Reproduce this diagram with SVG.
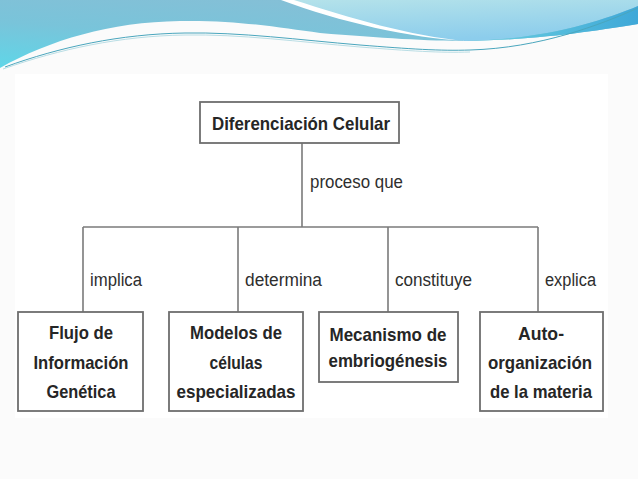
<svg xmlns="http://www.w3.org/2000/svg" width="638" height="479" viewBox="0 0 638 479">
<defs>
<linearGradient id="gBlue" x1="0" y1="1" x2="0.6" y2="0">
<stop offset="0" stop-color="#5fd6e8"/>
<stop offset="0.5" stop-color="#79c4da"/>
<stop offset="1" stop-color="#86bfd6"/>
</linearGradient>
<linearGradient id="gLight" x1="0" y1="0" x2="0.3" y2="1">
<stop offset="0" stop-color="#b4e2ea"/>
<stop offset="1" stop-color="#8ccdec"/>
</linearGradient>
<linearGradient id="gDeep" x1="0" y1="0" x2="1" y2="0">
<stop offset="0" stop-color="#6cd2e0"/>
<stop offset="1" stop-color="#3fa8d8"/>
</linearGradient>
<style>
.box{fill:#ffffff;stroke:#6e6e6e;stroke-width:1.8}
.nt{font-family:"Liberation Sans",Arial,sans-serif;font-weight:bold;font-size:19px;fill:#262626;text-anchor:middle}
.lb{font-family:"Liberation Sans",Arial,sans-serif;font-size:18px;fill:#2e2e2e}
.ln{stroke:#7a7a7a;stroke-width:1.6;fill:none}
</style>
</defs>
<rect width="638" height="479" fill="#fbfbfb"/>
<rect x="15" y="74" width="593" height="344" fill="#ffffff"/>
<!-- header waves -->
<path d="M0 0 H638 V24 C600 30 540 40 466 41 C430 41 380 38 320 33 C280 28 240 20 180 21 C110 22 50 40 0 68 Z" fill="url(#gBlue)"/>
<path d="M292 0 C350 20 410 37 466 41 C540 40 600 22 638 6 V0 Z" fill="url(#gLight)"/>
<path d="M466 41 C540 40 600 22 638 6 V24 C600 30 540 40 466 41 Z" fill="url(#gDeep)"/>
<path d="M281 0 L294 0 C350 18 410 36 466 41 C410 38 340 22 281 0 Z" fill="#ffffff"/>
<path d="M5 67 C60 47 120 34 185 33 C240 32 300 40 360 45 C410 49 440 51 470 50 C540 48 600 25 638 8" stroke="#4aa6bd" stroke-width="1" fill="none"/>
<path d="M3 69 C60 49 120 36 185 35 C240 34 300 42 360 47 C410 51 440 53 470 52" stroke="#a8d6de" stroke-width="0.8" fill="none"/>
<!-- connectors -->
<g id="connectors">
<line class="ln" x1="302" y1="143" x2="302" y2="227"/>
<line class="ln" x1="83" y1="227" x2="538" y2="227"/>
<line class="ln" x1="83" y1="227" x2="83" y2="312"/>
<line class="ln" x1="238" y1="227" x2="238" y2="312"/>
<line class="ln" x1="388" y1="227" x2="388" y2="312"/>
<line class="ln" x1="538" y1="227" x2="538" y2="312"/>
<text class="lb" x="310" y="188" textLength="93" lengthAdjust="spacingAndGlyphs">proceso que</text>
<text class="lb" x="90" y="286" textLength="52" lengthAdjust="spacingAndGlyphs">implica</text>
<text class="lb" x="245" y="286" textLength="77" lengthAdjust="spacingAndGlyphs">determina</text>
<text class="lb" x="395" y="286" textLength="77" lengthAdjust="spacingAndGlyphs">constituye</text>
<text class="lb" x="545" y="286" textLength="51" lengthAdjust="spacingAndGlyphs">explica</text>
</g>
<g id="root">
<rect class="box" x="200" y="102" width="199" height="41"/>
<text class="nt" x="301" y="130" textLength="178" lengthAdjust="spacingAndGlyphs">Diferenciación Celular</text>
</g>
<g id="n1">
<rect class="box" x="18" y="312" width="125" height="99"/>
<text class="nt" x="81" y="339" textLength="64" lengthAdjust="spacingAndGlyphs">Flujo de</text>
<text class="nt" x="81" y="369" textLength="95" lengthAdjust="spacingAndGlyphs">Información</text>
<text class="nt" x="81" y="398" textLength="69" lengthAdjust="spacingAndGlyphs">Genética</text>
</g>
<g id="n2">
<rect class="box" x="169" y="312" width="134" height="99"/>
<text class="nt" x="236" y="339" textLength="92" lengthAdjust="spacingAndGlyphs">Modelos de</text>
<text class="nt" x="236" y="369" textLength="53" lengthAdjust="spacingAndGlyphs">células</text>
<text class="nt" x="236" y="398" textLength="119" lengthAdjust="spacingAndGlyphs">especializadas</text>
</g>
<g id="n3">
<rect class="box" x="319" y="312" width="139" height="70"/>
<text class="nt" x="388" y="341" textLength="117" lengthAdjust="spacingAndGlyphs">Mecanismo de</text>
<text class="nt" x="388" y="367" textLength="119" lengthAdjust="spacingAndGlyphs">embriogénesis</text>
</g>
<g id="n4">
<rect class="box" x="480" y="312" width="123" height="99"/>
<text class="nt" x="541" y="340" textLength="46" lengthAdjust="spacingAndGlyphs">Auto-</text>
<text class="nt" x="540" y="369" textLength="104" lengthAdjust="spacingAndGlyphs">organización</text>
<text class="nt" x="541" y="398" textLength="102" lengthAdjust="spacingAndGlyphs">de la materia</text>
</g>
</svg>
